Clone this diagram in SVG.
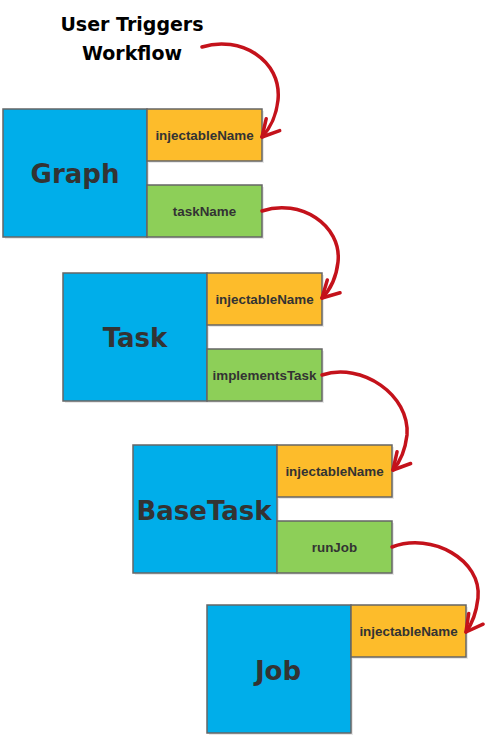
<svg xmlns="http://www.w3.org/2000/svg" width="488" height="737" viewBox="0 0 488 737">
<style>
.blue{fill:#00aeea;stroke:#666;stroke-width:1.5}
.orange{fill:#fdbc2b;stroke:#666;stroke-width:1.5}
.green{fill:#8dcf58;stroke:#666;stroke-width:1.5}
.shadow{fill:#e8e8e8}
.big{font-family:"DejaVu Sans",sans-serif;font-weight:bold;font-size:26px;fill:#333;text-anchor:middle}
.small{font-family:"Liberation Sans",Arial,sans-serif;font-weight:bold;font-size:13.4px;fill:#333;text-anchor:middle}
.title{font-family:"DejaVu Sans",sans-serif;font-weight:bold;font-size:19px;fill:#000;text-anchor:middle}
.conn{fill:none;stroke:#c4121b;stroke-width:3.5;stroke-linecap:round}
</style>
<defs>
<marker id="arr" markerUnits="userSpaceOnUse" viewBox="-20 -12 22 24" markerWidth="22" markerHeight="24" refX="0" refY="0" orient="auto" overflow="visible">
<path d="M-16.5,-9 L0,0 L-16.5,9" fill="none" stroke="#c4121b" stroke-width="3.5" stroke-linecap="round" stroke-linejoin="round"/>
</marker>
</defs>
<rect width="488" height="737" fill="#fff"/>
<g id="title">
<text class="title" x="132" y="31">User Triggers</text>
<text class="title" x="132" y="60">Workflow</text>
</g>
<g id="graph">
<rect class="shadow" x="5" y="111" width="144" height="128"/>
<rect class="shadow" x="149" y="111" width="115" height="52"/>
<rect class="shadow" x="149" y="187" width="115" height="52"/>
<rect class="blue" x="3" y="109" width="144" height="128"/>
<rect class="orange" x="147" y="109" width="115" height="52"/>
<rect class="green" x="147" y="185" width="115" height="52"/>
<text class="big" x="75" y="183">Graph</text>
<text class="small" x="204.5" y="139.5">injectableName</text>
<text class="small" x="204.5" y="215.5">taskName</text>
</g>
<g id="task">
<rect class="shadow" x="65" y="275" width="144" height="128"/>
<rect class="shadow" x="209" y="275" width="115" height="52"/>
<rect class="shadow" x="209" y="351" width="115" height="52"/>
<rect class="blue" x="63" y="273" width="144" height="128"/>
<rect class="orange" x="207" y="273" width="115" height="52"/>
<rect class="green" x="207" y="349" width="115" height="52"/>
<text class="big" x="135" y="347">Task</text>
<text class="small" x="264.5" y="303.5">injectableName</text>
<text class="small" x="264.5" y="379.5">implementsTask</text>
</g>
<g id="basetask">
<rect class="shadow" x="135" y="447" width="144" height="128"/>
<rect class="shadow" x="279" y="447" width="115" height="52"/>
<rect class="shadow" x="279" y="523" width="115" height="52"/>
<rect class="blue" x="133" y="445" width="144" height="128"/>
<rect class="orange" x="277" y="445" width="115" height="52"/>
<rect class="green" x="277" y="521" width="115" height="52"/>
<text class="big" x="204" y="520">BaseTask</text>
<text class="small" x="334.5" y="475.5">injectableName</text>
<text class="small" x="334.5" y="551.5">runJob</text>
</g>
<g id="job">
<rect class="shadow" x="209" y="607" width="144" height="128"/>
<rect class="shadow" x="353" y="607" width="115" height="52"/>
<rect class="blue" x="207" y="605" width="144" height="128"/>
<rect class="orange" x="351" y="605" width="115" height="52"/>
<text class="big" x="278" y="680">Job</text>
<text class="small" x="408.5" y="635.5">injectableName</text>
</g>
<g id="connectors">
<path class="conn" marker-end="url(#arr)" d="M202,47 C240,35 282,60 278,100 C276,118 270,128 262,137"/>
<path class="conn" marker-end="url(#arr)" d="M262,211 C300,198 342,225 338,262 C336,280 330,290 322,298"/>
<path class="conn" marker-end="url(#arr)" d="M322,375 C362,362 410,395 407,435 C405,452 400,462 393,470"/>
<path class="conn" marker-end="url(#arr)" d="M392,547 C432,532 482,560 478,598 C476,615 472,624 466,632"/>
</g>
</svg>
